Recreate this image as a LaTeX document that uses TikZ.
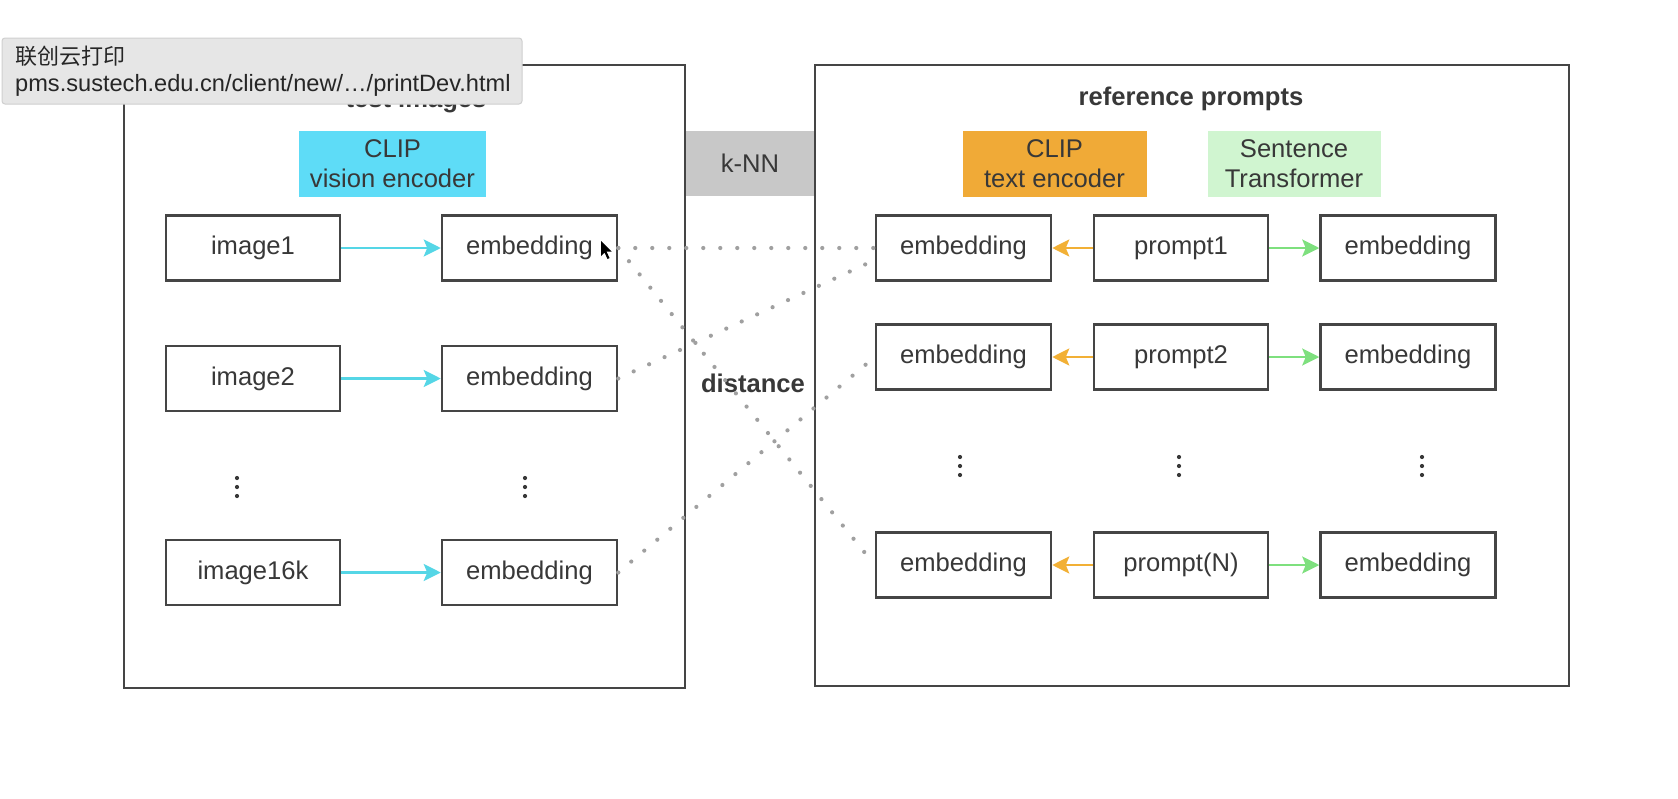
\documentclass[tikz,border=0pt]{standalone}
\usepackage{fontspec}
\setmainfont{Liberation Sans}
\newfontfamily\cjkfont{Noto Sans CJK SC}
\usetikzlibrary{arrows.meta}
\definecolor{boxc}{HTML}{454545}
\definecolor{txt}{HTML}{383838}
\definecolor{cyanfill}{HTML}{5EDCF7}
\definecolor{orangefill}{HTML}{F0AA37}
\definecolor{greenfill}{HTML}{D0F5D0}
\definecolor{knnfill}{HTML}{C8C8C8}
\definecolor{cyanarr}{HTML}{55D6E6}
\definecolor{orangearr}{HTML}{F2B035}
\definecolor{greenarr}{HTML}{7EE07E}
\definecolor{dotc}{HTML}{A0A0A0}
\definecolor{tipfill}{HTML}{E6E6E6}
\definecolor{tipdraw}{HTML}{CFCFCF}
\newcommand\mainfs{\fontsize{25.6}{30}\selectfont}
\newcommand\tipfs{\fontsize{23.6}{28}\selectfont}
\newcommand\tipcjkfs{\fontsize{22}{27}\selectfont}
\tikzset{
  item/.style={draw=boxc, line width=2.5pt, minimum width=175pt, minimum height=65pt, inner sep=0pt, text=txt, font=\mainfs},
  frame/.style={draw=boxc, line width=2.5pt, inner sep=0pt},
  enc/.style={minimum height=66pt, inner sep=0pt, text=txt, font=\mainfs, align=center},
  title/.style={text=txt, font=\mainfs\bfseries, inner sep=0pt},
  arr/.style={line width=2.5pt, -{Stealth[length=17pt,width=17pt,inset=3.5pt]}},
  dotline/.style={dotc, line width=4.2pt, line cap=round, dash pattern=on 0pt off 17pt},
  vdot/.style={circle, fill=txt, inner sep=0pt, minimum size=4.2pt},
  tipbox/.style={fill=tipfill, draw=tipdraw, line width=1pt, rounded corners=3pt, minimum width=520pt, minimum height=66pt, inner sep=0pt},
  tiptext/.style={text=black!85, inner sep=0pt, anchor=west}
}
\begin{document}
\begin{tikzpicture}[x=1pt,y=-1pt]
\useasboundingbox[fill=white] (0,0) rectangle (1678,798);

% k-NN band
\node[fill=knnfill, minimum width=130pt, minimum height=65pt, inner sep=0pt, text=txt, font=\mainfs] (knn) at (750,163.5) {k-NN};

% frames
\node[frame, minimum width=561pt, minimum height=623pt] (left) at (404.5,376.5) {};
\node[frame, minimum width=754pt, minimum height=621pt] (right) at (1192,375.5) {};

% titles
\node[title] (ltitle) at (416,101) {test images};
\node[title] (rtitle) at (1191,99) {reference prompts};
\node[title] (dist) at (753,383) {distance};

% encoders
\node[enc, fill=cyanfill, minimum width=187pt] (cv) at (392.5,164) {CLIP\\[0pt]vision encoder};
\node[enc, fill=orangefill, minimum width=184pt] (ct) at (1054.5,164) {CLIP\\[0pt]text encoder};
\node[enc, fill=greenfill, minimum width=173pt] (st) at (1294,164) {Sentence\\[0pt]Transformer};

% left rows
\node[item, minimum width=174pt] (img1) at (253,248) {image1};
\node[item] (le1) at (529.5,248) {embedding};
\node[item, minimum width=174pt] (img2) at (253,378.5) {image2};
\node[item] (le2) at (529.5,378.5) {embedding};
\node[item, minimum width=174pt] (img16) at (253,572.5) {image16k};
\node[item] (le16) at (529.5,572.5) {embedding};

% right rows
\node[item] (re1) at (963.5,248) {embedding};
\node[item, minimum width=174pt] (p1) at (1181,248) {prompt1};
\node[item] (se1) at (1408,248) {embedding};
\node[item] (re2) at (963.5,357) {embedding};
\node[item, minimum width=174pt] (p2) at (1181,357) {prompt2};
\node[item] (se2) at (1408,357) {embedding};
\node[item] (reN) at (963.5,565) {embedding};
\node[item, minimum width=174pt] (pN) at (1181,565) {prompt(N)};
\node[item] (seN) at (1408,565) {embedding};

% arrows
\draw[arr, cyanarr] (img1) -- (le1);
\draw[arr, cyanarr] (img2) -- (le2);
\draw[arr, cyanarr] (img16) -- (le16);
\draw[arr, orangearr] (p1) -- (re1);
\draw[arr, orangearr] (p2) -- (re2);
\draw[arr, orangearr] (pN) -- (reN);
\draw[arr, greenarr] (p1) -- (se1);
\draw[arr, greenarr] (p2) -- (se2);
\draw[arr, greenarr] (pN) -- (seN);

% dotted distance lines
\draw[dotline] (le1.east) -- (re1.west);
\draw[dotline] (le1.east) -- (reN.west);
\draw[dotline] (le2.east) -- ([yshift=-12pt]re1.west);
\draw[dotline] (le16.east) -- (re2.west);

% vertical ellipses
\foreach \n/\x/\y in {a/237/487, b/525/487, c/960/466, d/1179/466, e/1422/466}{
  \node[vdot] (\n1) at (\x,\y-9) {};
  \node[vdot] (\n2) at (\x,\y) {};
  \node[vdot] (\n3) at (\x,\y+9) {};
}

% mouse cursor
\fill[black] (601,241) -- (601,256) -- (604.5,252.5) -- (607.5,259) -- (609.5,258) -- (606.5,251.5) -- (611.5,251.5) -- cycle;

% tooltip
\node[tipbox] (tooltip) at (262,71) {};
\node[tiptext, font=\tipcjkfs] (tip1) at (15,56) {\cjkfont 联创云打印};
\node[tiptext, font=\tipfs] (tip2) at (15,85) {pms.sustech.edu.cn/client/new/…/printDev.html};
\end{tikzpicture}
\end{document}
